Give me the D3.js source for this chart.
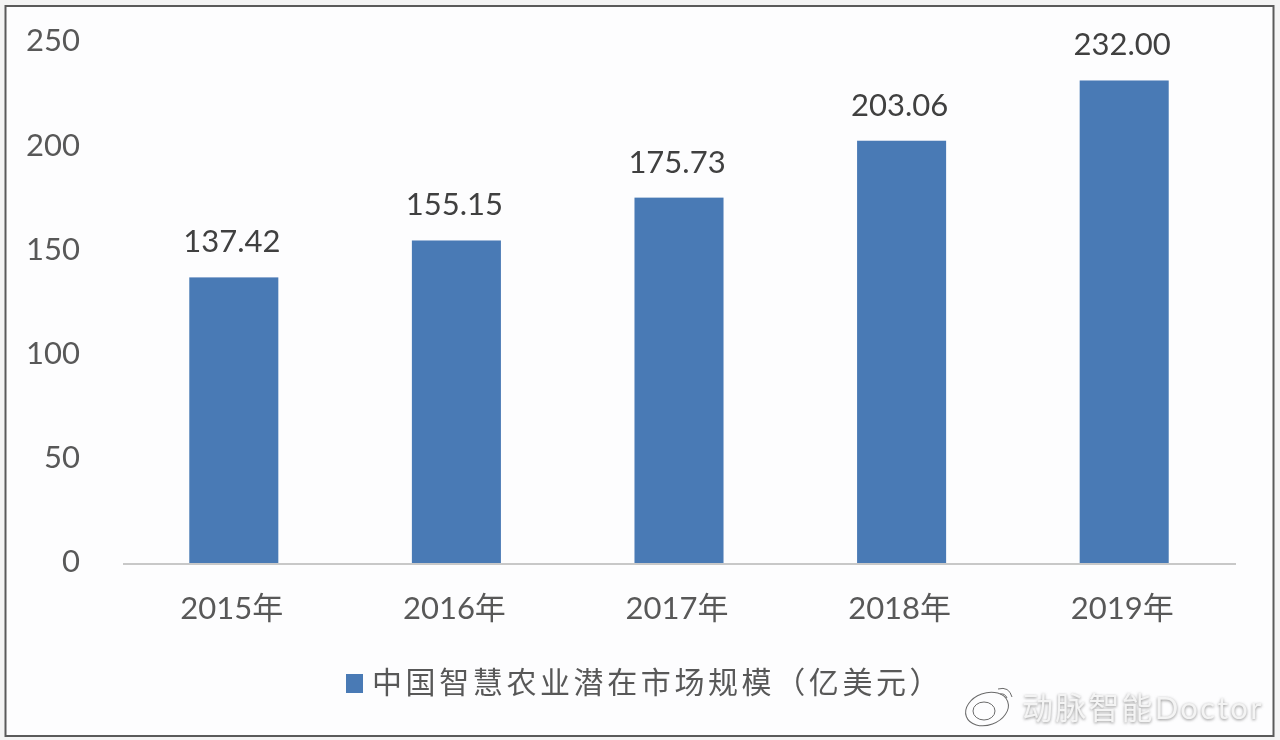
<!DOCTYPE html>
<html>
<head>
<meta charset="utf-8">
<script src="https://cdn.jsdelivr.net/npm/d3@7"></script>
<style>
  html, body { margin: 0; padding: 0; background: #f4f4f4; overflow: hidden; }
  text { font-family: Lato, "Noto Sans CJK SC", sans-serif; }
  .axis text { fill: #595959; font-size: 31px; }
  .label { fill: #404040; font-size: 31px; text-anchor: middle; }
  .legend { fill: #595959; font-size: 30px; letter-spacing: 3.6px; }
  .mark-text { font-size: 31px; letter-spacing: 2.2px; }
</style>
</head>
<body>
<div id="chart-area"></div>
<script>
let years = ['2015年', '2016年', '2017年', '2018年', '2019年'];
let values = [137.42, 155.15, 175.73, 203.06, 232.0];
let yTicks = [0, 50, 100, 150, 200, 250];
let seriesName = '中国智慧农业潜在市场规模（亿美元）';
let watermark = '动脉智能Doctor';

let svg = d3
  .select('#chart-area')
  .append('svg')
  .attr('width', 1280)
  .attr('height', 740)
  .style('display', 'block');

// Soft blur, the reference is a compressed screenshot
let defs = svg.append('defs');
defs.append('filter').attr('id', 'soft').append('feGaussianBlur').attr('stdDeviation', 0.5);
defs.append('filter').attr('id', 'shadow').append('feGaussianBlur').attr('stdDeviation', 1.6);

// Frame
svg
  .append('rect')
  .attr('x', 5.5)
  .attr('y', 6)
  .attr('width', 1268)
  .attr('height', 730)
  .attr('fill', '#fdfdfe')
  .attr('stroke', '#5a5a5a')
  .attr('stroke-width', 2);

// Scales
let x = d3
  .scaleBand()
  .domain(years)
  .range([122.5, 1235.5])
  .paddingInner(0.6)
  .paddingOuter(0.3);

let y = d3.scaleLinear().domain([0, 250]).range([563.5, 43]);

let chart = svg.append('g').attr('filter', 'url(#soft)');

// Bars
chart
  .selectAll('rect.bar')
  .data(values)
  .enter()
  .append('rect')
  .attr('class', 'bar')
  .attr('x', (d, i) => x(years[i]))
  .attr('y', d => y(d))
  .attr('width', x.bandwidth())
  .attr('height', d => y(0) - y(d))
  .attr('fill', '#4a7ab5');

// Value labels
chart
  .selectAll('text.label')
  .data(values)
  .enter()
  .append('text')
  .attr('class', 'label')
  .attr('x', (d, i) => x(years[i]) + x.bandwidth() / 2 - 2)
  .attr('y', d => y(d) - 25)
  .text(d => d.toFixed(2));

// Axis
let xAxis = d3.axisBottom(x).tickSize(0).tickPadding(33);
let xSvg = chart
  .append('g')
  .attr('class', 'x-axis axis')
  .attr('transform', 'translate(0,' + y(0) + ')')
  .call(xAxis);
xSvg.select('.domain').attr('stroke', '#c8c8c8').attr('stroke-width', 2);
xSvg.selectAll('text').attr('dx', -2);

let yAxis = d3.axisLeft(y).tickValues(yTicks).tickSize(0).tickPadding(0);
let ySvg = chart
  .append('g')
  .attr('class', 'y-axis axis')
  .attr('transform', 'translate(80,-2)')
  .call(yAxis);
ySvg.select('.domain').remove();

// Legend
chart
  .append('rect')
  .attr('x', 346)
  .attr('y', 674)
  .attr('width', 17)
  .attr('height', 19)
  .attr('fill', '#4a7ab5');
chart
  .append('text')
  .attr('class', 'legend')
  .attr('x', 372)
  .attr('y', 693)
  .text(seriesName);

// Watermark
let mark = svg.append('g').attr('fill', 'none').attr('stroke', '#6a6a6a').attr('stroke-width', 1);
mark
  .append('ellipse')
  .attr('cx', 987)
  .attr('cy', 709)
  .attr('rx', 22)
  .attr('ry', 16)
  .attr('transform', 'rotate(-20 987 709)');
mark.append('ellipse').attr('cx', 984).attr('cy', 711).attr('rx', 11).attr('ry', 9);
mark.append('path').attr('d', 'M998 689 q11 -3 14 8 M1000 694 q5 -1 7 4');

svg
  .append('text')
  .attr('class', 'mark-text')
  .attr('x', 1022)
  .attr('y', 720)
  .attr('fill', '#909090')
  .attr('filter', 'url(#shadow)')
  .text(watermark);
svg
  .append('text')
  .attr('class', 'mark-text')
  .attr('x', 1022)
  .attr('y', 719)
  .attr('fill', '#f4f4f4')
  .text(watermark);
</script>
</body>
</html>
